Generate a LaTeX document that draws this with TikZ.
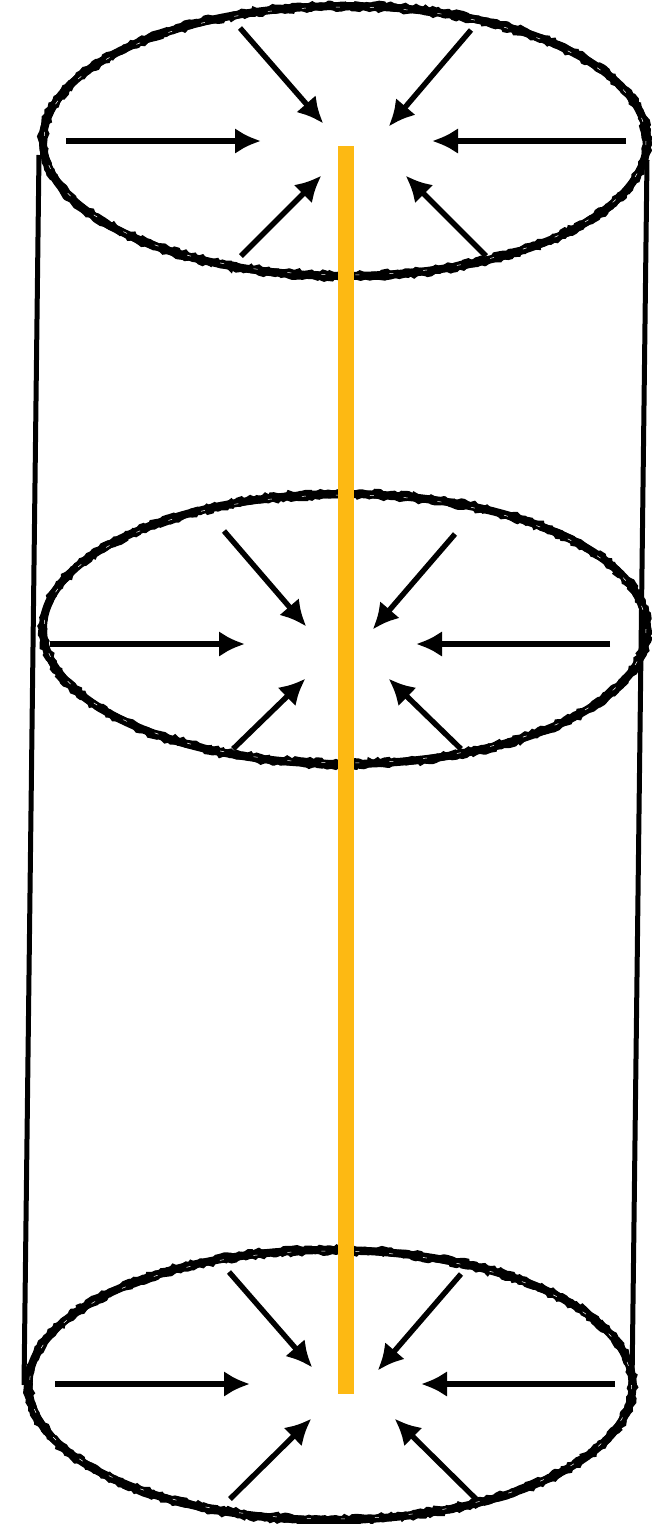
\documentclass[tikz,border=0pt]{standalone}
\usepackage{xcolor}
\usetikzlibrary{arrows.meta,decorations.pathmorphing}
\definecolor{rod}{HTML}{FDB913}
\tikzset{
  rimcore/.style={draw=black,line width=8pt},
  rough/.style={draw=black,line width=3pt,decorate,decoration={random steps,segment length=3.5pt,amplitude=1.7pt}},
  speck/.style={draw=white,line width=0.5pt,dash pattern=on 4pt off 30pt},
  wall/.style={draw=black,line width=5pt},
  inarrow/.style={draw=black,line width=5.4pt,shorten >=-2pt,-{Latex[length=26pt,width=26pt]}}
}
\begin{document}
\begin{tikzpicture}[x=1pt,y=-1pt]
\useasboundingbox (0,0) rectangle (651,1524);
\pgfmathsetseed{7}
% walls
\coordinate (lt) at (39,155);
\coordinate (lb) at (24,1385);
\coordinate (rt) at (647,160);
\coordinate (rb) at (632,1385);
\draw[wall] (lt) -- (lb);
\draw[wall] (rt) -- (rb);
% rims
\foreach \cx/\cy in {345/141,345/629,330.5/1385}{
  \draw[rimcore] (\cx,\cy) ellipse [x radius=302,y radius=135];
  \foreach \off in {-3,3}{
    \draw[rough] (\cx,\cy) ellipse [x radius=302+\off,y radius=135+\off];
  }
  \draw[speck] (\cx,\cy) ellipse [x radius=301,y radius=134];
}
% rod
\coordinate (rodtop) at (346,146);
\coordinate (rodbot) at (346,1394);
\draw[rod,line width=16pt] (rodtop) -- (rodbot);
% arrows
\foreach \k/\sx/\sy/\tx/\ty in {
  a/240/28/322/122,b/471/30/390/125,c/66/141/259/141,d/626/141/434/141,e/241/256/320/177,f/486/256/407/177,
  g/224/531/305/625,h/455/534/374/628,i/50/644/243/644,j/610/644/418/644,k/233/749/304/680,l/461/749/390/680,
  m/229/1272/311/1366,n/461/1274/379/1369,o/55/1384/248/1384,p/615/1384/423/1384,q/230/1499/310/1420,r/476/1499/396/1420}{
  \coordinate (s\k) at (\sx,\sy);
  \coordinate (e\k) at (\tx,\ty);
  \draw[inarrow] (s\k) -- (e\k);
}
\end{tikzpicture}
\end{document}
